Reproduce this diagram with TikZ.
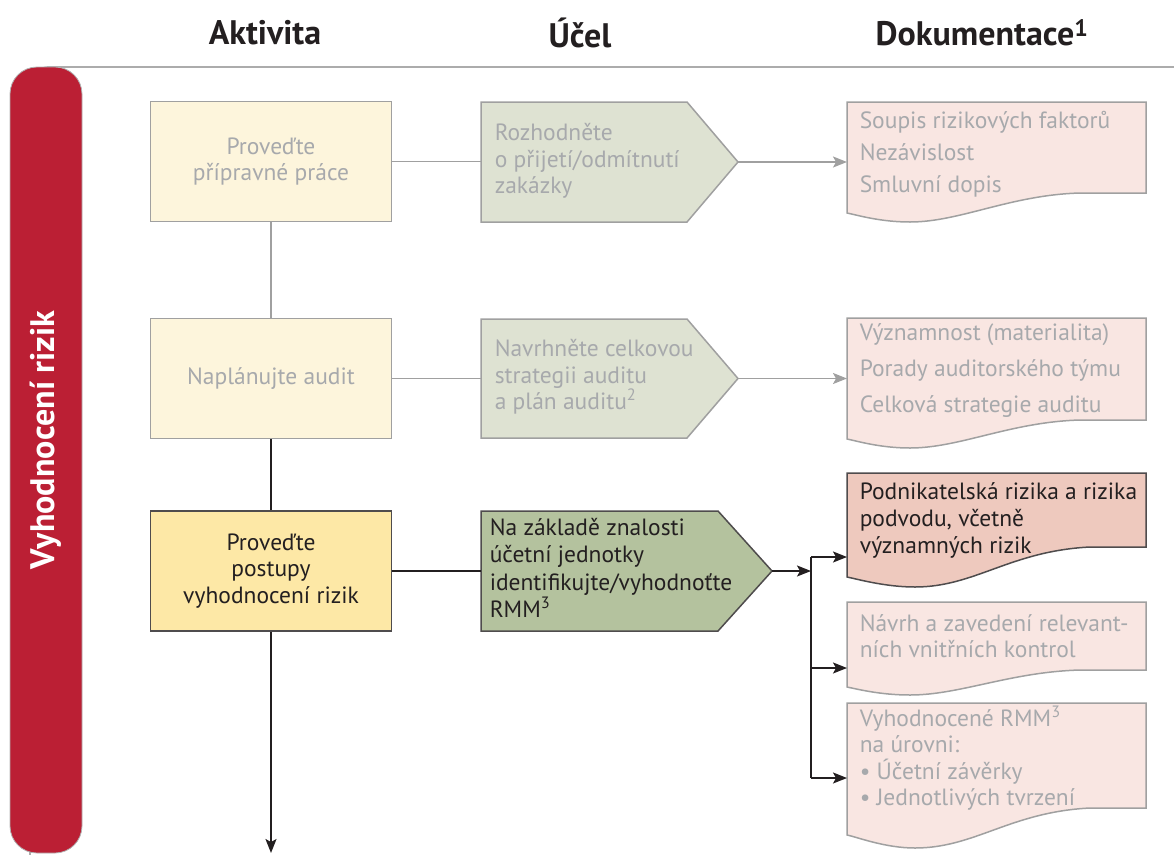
\documentclass[tikz,border=0pt]{standalone}
\usepackage{fontspec}
\setmainfont{PT Sans}
\usetikzlibrary{arrows.meta}
\definecolor{cerv}{RGB}{187,31,52}
\definecolor{sedt}{RGB}{167,169,172}
\definecolor{sedc}{RGB}{160,160,160}
\definecolor{tmav}{RGB}{35,31,32}
\definecolor{zlsv}{RGB}{253,245,220}
\definecolor{zlt}{RGB}{253,232,166}
\definecolor{zesv}{RGB}{222,226,210}
\definecolor{zet}{RGB}{180,194,158}
\definecolor{rusv}{RGB}{249,230,226}
\definecolor{rut}{RGB}{238,201,190}
\tikzset{
	hl/.style={font=\fontsize{34}{38}\selectfont\bfseries, text=tmav},
	ak/.style={draw=sedc, fill=zlsv, text=sedt, minimum width=241pt, minimum height=120pt, align=center},
	akt/.style={ak, draw=tmav!80, fill=zlt, text=tmav},
	uc/.style={draw=sedc, fill=zesv},
	uct/.style={uc, draw=tmav!80, fill=zet},
	ut/.style={text=sedt, align=left, anchor=west, inner sep=0pt},
	dok/.style={draw=sedc, fill=rusv},
	dokt/.style={dok, draw=tmav!80, fill=rut},
	sip/.style={-{Stealth[length=14pt,width=11pt,inset=3pt]}},
}

\begin{document}
\begin{tikzpicture}[x=1pt, y=-1pt, line width=1.5pt, font=\fontsize{23.5}{26.5}\selectfont]
	\useasboundingbox (0,0) rectangle (1174,854);
	\clip (0,0) rectangle (1174,854);

	% zahlavi
	\node[hl] (h1) at (265,33) {Aktivita};
	\node[hl] (h2) at (580,33) {Účel};
	\node[hl] (h3) at (982,33) {Dokumentace\textsuperscript{1}};

	% ramecek a cerveny pruh
	\draw[gray, line width=1.2pt, rounded corners=18pt] (30,67) rectangle (1200,920);
	\filldraw[cerv, draw=gray!60, line width=0.8pt, rounded corners=27pt] (10,67) rectangle (82,853);
	\node[rotate=90, text=white, font=\fontsize{34}{36}\selectfont\bfseries] (pruh) at (46,440) {Vyhodnocení rizik};

	% aktivity
	\node[ak] (a1) at (271,161.5) {Proveďte\\přípravné práce};
	\node[ak] (a2) at (271,378.5) {Naplánujte audit};
	\node[akt] (a3) at (271,571) {Proveďte\\postupy\\vyhodnocení rizik};

	% ucel
	\draw[uc] (481,102) coordinate (u1) -- (687,102) -- (738,162) coordinate (u1s) -- (687,222) -- (481,222) -- cycle;
	\draw[uc] (481,319) coordinate (u2) -- (687,319) -- (738,378.5) coordinate (u2s) -- (687,438) -- (481,438) -- cycle;
	\draw[uct] (481,511) coordinate (u3) -- (718,511) -- (772,571) coordinate (u3s) -- (718,631) -- (481,631) -- cycle;
	\node[ut] (t1) at (494,161) {Rozhodněte\\o přijetí/odmítnutí\\zakázky};
	\node[ut] (t2) at (494,377) {Navrhněte celkovou\\strategii auditu\\a plán auditu\textsuperscript{2}};
	\node[ut, text=tmav, font=\fontsize{23.5}{27.5}\selectfont] (t3) at (489,568) {Na základě znalosti\\účetní jednotky\\identifikujte/vyhodnoťte\\RMM\textsuperscript{3}};

	% dokumentace
	\draw[dok] (847,102) -| (1146,193) -- ++(-66,0) .. controls +(-70,2) and +(50,0) .. ++(-170,29) .. controls +(-30,0) and +(10,2) .. ++(-63,-9) -- cycle;
	\draw[dok] (847,318) -| (1146,420) -- ++(-66,0) .. controls +(-70,2) and +(50,0) .. ++(-170,28) .. controls +(-30,0) and +(10,2) .. ++(-63,-9) -- cycle;
	\draw[dokt] (847,473) -| (1146,547) -- ++(-56,0) .. controls +(-80,4) and +(60,0) .. ++(-175,40) .. controls +(-30,0) and +(10,2) .. ++(-68,-10) -- cycle;
	\draw[dok] (847,602) -| (1146,670) -- ++(-66,0) .. controls +(-70,2) and +(50,0) .. ++(-170,25) .. controls +(-30,0) and +(10,2) .. ++(-63,-8) -- cycle;
	\draw[dok] (847,703) -| (1146,808) -- ++(-56,0) .. controls +(-80,4) and +(60,0) .. ++(-175,40) .. controls +(-30,0) and +(10,2) .. ++(-68,-13) -- cycle;
	\node[ut, font=\fontsize{23.5}{32}\selectfont] (d1) at (859,154) {Soupis rizikových faktorů\\Nezávislost\\Smluvní dopis};
	\node[ut, font=\fontsize{23.5}{36}\selectfont] (d2) at (859,371) {Významnost (materialita)\\Porady auditorského týmu\\Celková strategie auditu};
	\node[ut, text=tmav, font=\fontsize{23.5}{27}\selectfont] (d3) at (859,520) {Podnikatelská rizika a rizika\\podvodu, včetně\\významných rizik};
	\node[ut] (d4) at (859,636) {Návrh a zavedení relevant-\\ních vnitřních kontrol};
	\node[ut] (d5) at (859,758) {Vyhodnocené RMM\textsuperscript{3}\\na úrovni:\\\textbullet\ Účetní závěrky\\\textbullet\ Jednotlivých tvrzení};

	% spojnice
	\coordinate (d1v) at (847,162);
	\coordinate (d2v) at (847,378.5);
	\coordinate (rozb) at (811,571);
	\coordinate (r1) at (811,557);
	\coordinate (r2) at (811,668);
	\coordinate (r3) at (811,778);
	\coordinate (konec) at (271,853);
	\draw[sedc] (a1.south) -- (a2.north);
	\draw[tmav] (a2.south) -- (a3.north);
	\draw[tmav, sip] (a3.south) -- (konec);
	\draw[sedc] (a1.east) -- (u1 |- a1.east);
	\draw[sedc] (a2.east) -- (u2 |- a2.east);
	\draw[tmav] (a3.east) -- (u3 |- a3.east);
	\draw[sedc, sip] (u1s) -- (d1v);
	\draw[sedc, sip] (u2s) -- (d2v);
	\draw[tmav, sip] (u3s) -- (rozb);
	\draw[tmav] (r1) -- (r3);
	\draw[tmav, sip] (r1) -- (r1 -| d1v);
	\draw[tmav, sip] (r2) -- (r2 -| d1v);
	\draw[tmav, sip] (r3) -- (r3 -| d1v);
\end{tikzpicture}
\end{document}
